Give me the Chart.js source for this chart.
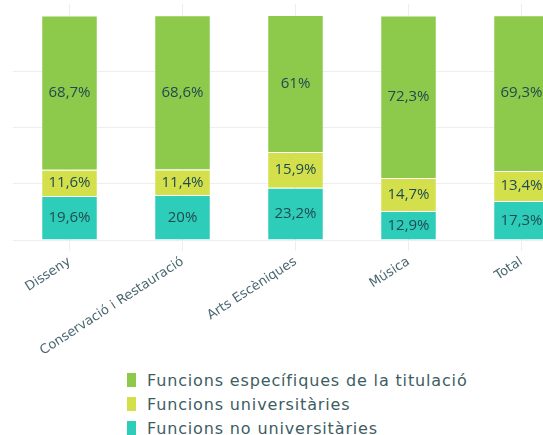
<!DOCTYPE html>
<html>
<head>
<meta charset="utf-8">
<script src="https://cdn.jsdelivr.net/npm/chart.js@4"></script>
<style>
    html, body { margin: 0; padding: 0; background: #fff; overflow: hidden; }
    body { width: 543px; height: 435px; position: relative; }
    .chart-wrap { position: absolute; left: 0; top: 0; width: 578px; height: 360px; }
    #legend { position: absolute; left: 127px; top: 368px; font-family: 'DejaVu Sans', sans-serif; }
    .legend-row { display: flex; align-items: center; height: 24px; }
    .legend-box { width: 9px; height: 14px; margin-right: 11px; }
    .legend-text { font-size: 16px; letter-spacing: 0.85px; color: #3d5d63; }
</style>
</head>
<body>
<div class="chart-wrap"><canvas id="funcionsChart"></canvas></div>
<div id="legend"></div>
<script>
const categories = ['Disseny', 'Conservació i Restauració', 'Arts Escèniques', 'Música', 'Total'];
const noUniversitaries = [19.6, 20, 23.2, 12.9, 17.3];
const universitaries = [11.6, 11.4, 15.9, 14.7, 13.4];
const especifiques = [68.7, 68.6, 61, 72.3, 69.3];

const seriesNames = ['Funcions no universitàries', 'Funcions universitàries', 'Funcions específiques de la titulació'];
const seriesColors = ['#2ecdb9', '#d3e04b', '#8dc94a'];

const fmt = v => String(v).replace('.', ',') + '%';

// Draws the percentage inside each bar segment
const valueLabels = {
    id: 'valueLabels',
    afterDatasetsDraw(chart) {
        const ctx = chart.ctx;
        ctx.save();
        ctx.font = '15px "Open Sans", sans-serif';
        ctx.fillStyle = '#1f4b50';
        ctx.textAlign = 'center';
        ctx.textBaseline = 'middle';
        chart.data.datasets.forEach((ds, i) => {
            const meta = chart.getDatasetMeta(i);
            meta.data.forEach((bar, j) => {
                const y = (bar.y + bar.base) / 2;
                ctx.fillText(fmt(ds.data[j]), bar.x, y);
            });
        });
        ctx.restore();
    }
};

// Legend as a vertical list under the chart
const htmlLegend = {
    id: 'htmlLegend',
    afterUpdate(chart) {
        const box = document.getElementById('legend');
        box.innerHTML = '';
        const items = chart.options.plugins.legend.labels.generateLabels(chart).reverse();
        items.forEach(item => {
            const row = document.createElement('div');
            row.className = 'legend-row';
            row.innerHTML = `<span class="legend-box" style="background:${item.fillStyle}"></span>
                <span class="legend-text">${item.text}</span>`;
            box.appendChild(row);
        });
    }
};

const ctx = document.getElementById('funcionsChart').getContext('2d');
new Chart(ctx, {
    type: 'bar',
    data: {
        labels: categories,
        datasets: [noUniversitaries, universitaries, especifiques].map((d, i) => ({
            label: seriesNames[i],
            data: d,
            backgroundColor: seriesColors[i],
            borderColor: 'rgba(255, 255, 255, 0.35)',
            borderWidth: 1,
            barPercentage: 0.5,
            categoryPercentage: 1
        }))
    },
    options: {
        responsive: true,
        maintainAspectRatio: false,
        animation: false,
        layout: { padding: { left: 13, top: 4, right: 0, bottom: 0 } },
        plugins: {
            legend: { display: false },
            tooltip: { enabled: false }
        },
        scales: {
            x: {
                stacked: true,
                grid: { color: '#eeeeee', offset: false, tickLength: 11 },
                border: { display: false },
                ticks: {
                    color: '#4b6670',
                    font: { family: 'DejaVu Sans', size: 13 },
                    minRotation: 33,
                    maxRotation: 33,
                    padding: 3
                },
                afterFit: scale => { scale.height = 120; }
            },
            y: {
                stacked: true,
                min: 0,
                max: 105,
                grid: { color: '#eeeeee', drawTicks: false },
                border: { display: false },
                ticks: { display: false, stepSize: 25 },
                afterBuildTicks: scale => {
                    scale.ticks = scale.ticks.filter(t => t.value % 25 === 0);
                }
            }
        }
    },
    plugins: [valueLabels, htmlLegend]
});
</script>
</body>
</html>
